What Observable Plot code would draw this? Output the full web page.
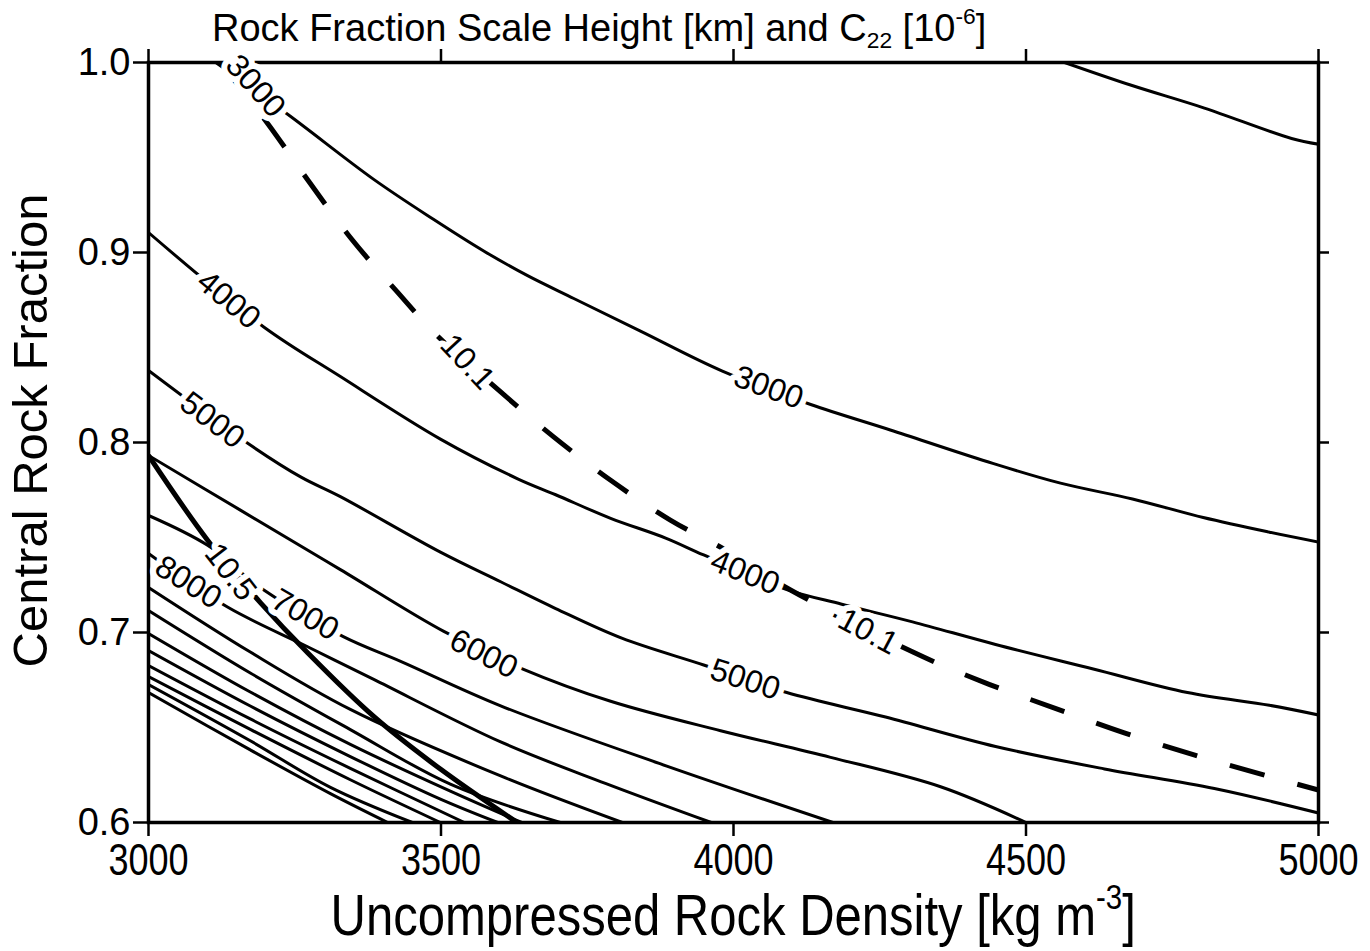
<!DOCTYPE html>
<html>
<head>
<meta charset="utf-8">
<script src="https://cdn.jsdelivr.net/npm/d3@7"></script>
<script src="https://cdn.jsdelivr.net/npm/@observablehq/plot@0.6"></script>
<style>
  body { margin: 0; background: #fff; }
  #wrap { position: relative; width: 1370px; height: 951px; overflow: hidden; color: #000;
          font-family: "Liberation Sans", Arial, Helvetica, sans-serif; }
  #chart { position: absolute; left: 0; top: 0; }
  #title { position: absolute; left: 212px; top: 9px; font-size: 38px; line-height: 1; white-space: nowrap; }
  #xlabel { position: absolute; left: 0; width: 1466px; text-align: center; top: 887px; font-size: 57px;
            line-height: 1; white-space: nowrap; }
  #xlabel span { display: inline-block; transform: scaleX(0.86); transform-origin: 50% 50%; }
  sub, sup { font-size: 0.6em; line-height: 0; }
  sub { vertical-align: -0.3em; }
  sup { vertical-align: 0.75em; }
</style>
</head>
<body>
<div id="wrap">
  <div id="chart"></div>
  <div id="title">Rock Fraction Scale Height [km] and C<sub>22</sub> [10<sup>-6</sup>]</div>
  <div id="xlabel"><span>Uncompressed Rock Density [kg m<sup>-3</sup>]</span></div>
</div>
<script>
// ---- axis ticks ----
const xTicks = [3000, 3500, 4000, 4500, 5000];
const yTicks = [0.6, 0.7, 0.8, 0.9, 1.0];

// ---- scale-height contours [km] : [density, rock fraction] ----
const c2000  = [[4566,1.0],[4680,0.988],[4805,0.976],[4954,0.960],[5000,0.957]];
const c3000  = [[3115,1.0],[3239,0.9725],[3385,0.9385],[3487,0.9175],[3573,0.9008],[3648,0.8878],[3727,0.8758],[3841,0.8586],[3980,0.8377],[4132,0.8200],[4268,0.8066],[4433,0.7900],[4559,0.7786],[4682,0.7703],[4803,0.7605],[4916,0.7528],[5000,0.7476]];
const c4000  = [[3000,0.9105],[3197,0.8608],[3328,0.8347],[3499,0.8018],[3631,0.7809],[3696,0.7725],[3790,0.7601],[3884,0.7497],[3949,0.7408],[4091,0.7226],[4185,0.7149],[4306,0.7056],[4448,0.6937],[4615,0.6808],[4776,0.6684],[4916,0.6617],[5000,0.6566]];
const c5000  = [[3000,0.8379],[3169,0.7997],[3260,0.7819],[3328,0.7715],[3499,0.7423],[3602,0.7267],[3696,0.7126],[3809,0.6970],[3949,0.6829],[4091,0.6684],[4260,0.6555],[4448,0.6400],[4634,0.6282],[4822,0.6179],[5000,0.6050]];
const c6000  = [[3000,0.7932],[3157,0.7644],[3328,0.7331],[3504,0.7007],[3639,0.6809],[3790,0.6638],[3978,0.6483],[4166,0.6343],[4354,0.6188],[4500,0.6]];
const c7000  = [[3000,0.7616],[3101,0.7459],[3192,0.7234],[3333,0.6978],[3431,0.6848],[3602,0.6614],[3886,0.6297],[4170,0.6]];
const c8000  = [[3000,0.7416],[3135,0.7134],[3272,0.6925],[3385,0.6753],[3602,0.6424],[3781,0.6206],[3962,0.6]];
const c9000  = [[3000,0.7237],[3174,0.6897],[3345,0.6595],[3602,0.6245],[3810,0.6]];
const c10000 = [[3000,0.7116],[3174,0.6787],[3345,0.6489],[3516,0.6202],[3704,0.6]];
const c11000 = [[3000,0.6995],[3174,0.6687],[3345,0.6411],[3516,0.6165],[3638,0.6]];
const c12000 = [[3000,0.6905],[3174,0.6613],[3345,0.6347],[3499,0.6123],[3597,0.6]];
const c13000 = [[3000,0.6826],[3174,0.6545],[3345,0.6285],[3540,0.6]];
const c14000 = [[3000,0.6768],[3174,0.6490],[3345,0.6225],[3499,0.6]];
const c15000 = [[3000,0.6726],[3174,0.6430],[3311,0.6185],[3451,0.6]];
const c16000 = [[3000,0.6684],[3174,0.6382],[3311,0.6152],[3409,0.6]];

// ---- C22 contours [10^-6] ----
const c22_10_5 = [[3000,0.7932],[3101,0.7486],[3192,0.7155],[3272,0.6893],[3385,0.6558],[3499,0.6281],[3630,0.6]];
const c22_10_1 = [[3123,1.0],[3203,0.9682],[3272,0.9383],[3345,0.9079],[3426,0.8790],[3491,0.8570],[3602,0.8266],[3692,0.8031],[3790,0.7801],[3892,0.7592],[3986,0.7435],[4099,0.7221],[4325,0.6871],[4438,0.6726],[4550,0.6601],[4668,0.6472],[4790,0.6353],[4908,0.6249],[5000,0.6171]];

// ---- contour labels ----
const labelText  = ["3000", "4000", "5000", "8000", "10.5", "7000", "6000", "10.1", "3000", "4000", "\u00b710.1", "5000"];
const labelX     = [3183, 3137, 3109, 3068, 3140, 3268, 3573, 3545, 4060, 4020, 4222, 4020];
const labelY     = [0.9876, 0.8750, 0.8117, 0.7264, 0.7318, 0.7093, 0.6887, 0.8424, 0.8289, 0.7315, 0.7018, 0.6752];
const labelAngle = [48, 40, 37, 32, 52, 30, 27, 47, 20, 22, 28, 18];

const solid = [c2000, c3000, c4000, c5000, c6000, c7000, c8000, c9000, c10000,
               c11000, c12000, c13000, c14000, c15000, c16000];
const labels = labelText.map((t, i) => ({t, x: labelX[i], y: labelY[i], a: labelAngle[i]}));

const lineOpts = {x: d => d[0], y: d => d[1], curve: "catmull-rom", clip: true, stroke: "black",
                  strokeLinejoin: "round", strokeLinecap: "butt"};

const plot = Plot.plot({
  width: 1370,
  height: 951,
  marginLeft: 148,
  marginRight: 52,
  marginTop: 62,
  marginBottom: 129,
  x: {domain: [3000, 5000]},
  y: {domain: [0.6, 1.0]},
  style: {fontFamily: "'Liberation Sans', Arial, sans-serif", background: "white", color: "black"},
  marks: [
    ...solid.map(c => Plot.line(c, {...lineOpts, strokeWidth: 3})),
    Plot.line(c22_10_5, {...lineOpts, strokeWidth: 5}),
    Plot.line(c22_10_1, {...lineOpts, strokeWidth: 5, strokeDasharray: "36,34"}),
    Plot.frame({stroke: "black", strokeWidth: 3.5}),
    Plot.axisX({anchor: "bottom", ticks: xTicks, tickSize: 14, tickPadding: 7, tickFormat: d => String(d),
                fontSize: 44, strokeWidth: 2.5, label: null}),
    Plot.axisX({anchor: "top", ticks: xTicks, tickSize: 14, tickFormat: () => "", strokeWidth: 2.5, label: null}),
    Plot.axisY({anchor: "left", ticks: yTicks, tickSize: 15, tickPadding: 3, tickFormat: d3.format(".1f"),
                fontSize: 38, strokeWidth: 2.5, label: null}),
    Plot.axisY({anchor: "right", ticks: yTicks, tickSize: 10, tickFormat: () => "", strokeWidth: 2.5, label: null}),
    Plot.text(labels, {x: "x", y: "y", text: "t", rotate: "a", fontSize: 32, fill: "black",
                       stroke: "white", strokeWidth: 12, paintOrder: "stroke"}),
    Plot.text(["Central Rock Fraction"], {frameAnchor: "left", textAnchor: "middle", dx: -117, dy: -12,
                                          rotate: -90, fontSize: 49, fill: "black"})
  ]
});

// condensed look of the x tick labels (as in the reference typeface)
d3.select(plot).selectAll('g[aria-label="x-axis tick label"] text')
  .attr("transform", function() { return (this.getAttribute("transform") || "") + " scale(0.82,1)"; });

document.getElementById("chart").appendChild(plot);
</script>
</body>
</html>
